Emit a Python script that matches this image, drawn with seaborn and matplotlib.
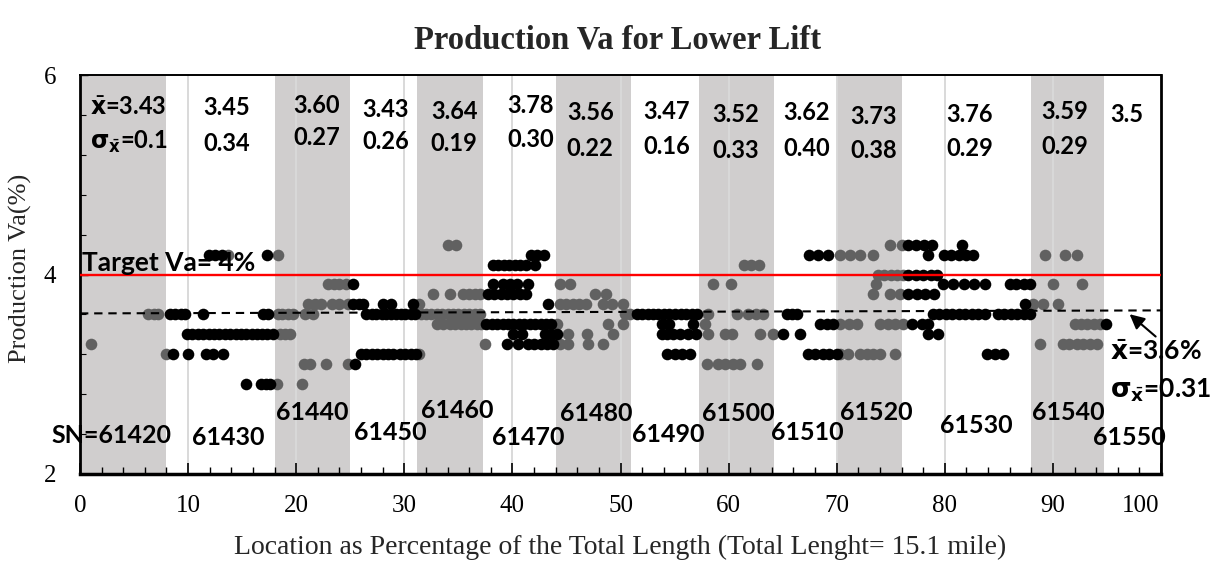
import numpy as np
import pandas as pd
import matplotlib
matplotlib.use("Agg")
import matplotlib.pyplot as plt
import matplotlib.transforms as mtransforms
import seaborn as sns
from matplotlib.ticker import MultipleLocator

# ---------------- data ----------------
black_levels = [4.3, 4.2, 4.1, 4.0, 3.9, 3.8, 3.7, 3.6, 3.5, 3.4, 3.3, 3.2, 3.1, 2.9]
black_xs = [
    [76.6, 77.3, 78.1, 78.8, 81.6],
    [11.9, 12.5, 13.1, 17.3, 41.7, 42.3, 42.9, 67.4, 68.3, 69.2, 78.4, 79.9, 80.6, 81.3, 82.0, 82.6],
    [38.2, 38.7, 39.2, 39.7, 40.2, 40.7, 41.3, 42.1],
    [76.6, 77.3, 78.0, 78.7, 79.3],
    [25.3, 38.2, 39.1, 39.8, 40.4, 41.4, 79.8, 80.8, 81.8, 82.7, 83.7, 86.0, 86.6, 87.3, 87.9],
    [37.7, 38.3, 38.9, 39.5, 40.1, 40.7, 41.3, 76.6, 77.4, 78.2, 79.0],
    [25.3, 25.8, 26.2, 28.0, 28.8, 30.8, 43.3, 87.4],
    [8.3, 8.8, 9.3, 9.7, 11.4, 16.9, 17.4, 26.5, 27.0, 27.4, 27.9, 28.3, 28.8, 29.2, 29.7, 30.1,
     30.6, 31.0, 51.5, 52.0, 52.5, 53.0, 53.5, 54.0, 54.5, 55.0, 55.6, 56.1, 56.6, 57.1, 65.4,
     65.9, 66.3, 78.9, 79.5, 80.1, 80.7, 81.3, 81.9, 82.5, 83.1, 83.7, 84.9, 85.5, 86.1, 86.7,
     87.3, 87.9],
    [37.6, 38.1, 38.6, 39.1, 39.6, 40.1, 40.6, 41.1, 41.6, 42.1, 42.6, 43.1, 43.6, 53.8, 54.5,
     56.7, 68.5, 69.1, 69.7, 77.0, 77.9, 78.4, 94.9],
    [9.9, 10.4, 10.9, 11.4, 11.9, 12.4, 12.9, 13.4, 13.9, 14.4, 14.9, 15.4, 15.9, 16.4, 16.8,
     17.3, 17.9, 40.1, 40.9, 43.0, 43.6, 44.1, 53.8, 54.3, 54.9, 55.5, 56.2, 57.0, 65.0, 66.6,
     78.4, 79.4],
    [39.5, 40.5, 41.4, 42.0, 42.6, 43.2, 43.8],
    [8.6, 10.0, 11.7, 12.3, 13.2, 26.0, 26.5, 27.0, 27.5, 28.0, 28.5, 29.0, 29.6, 30.1, 30.6,
     31.1, 54.3, 55.0, 55.7, 56.4, 67.3, 68.0, 68.7, 69.3, 70.0, 83.9, 84.6, 85.4],
    [25.4],
    [15.4, 16.7, 17.2, 17.6],
]

gray_levels = [4.3, 4.2, 4.1, 4.0, 3.9, 3.8, 3.7, 3.6, 3.5, 3.4, 3.3, 3.2, 3.1, 2.9]
gray_xs = [
    [34.0, 34.8, 74.9, 76.0],
    [13.7, 18.3, 70.3, 71.2, 72.2, 73.4, 89.3, 91.1, 92.2],
    [61.4, 62.1, 62.8],
    [73.8, 74.4, 75.0, 75.6, 76.1],
    [22.9, 23.5, 24.0, 24.6, 44.4, 45.3, 58.6, 60.2, 73.6, 90.0, 92.7],
    [32.7, 34.2, 35.4, 36.0, 36.5, 37.0, 47.6, 48.7, 73.4, 74.9, 75.9],
    [21.1, 21.7, 22.3, 23.3, 24.0, 24.8, 31.4, 44.4, 45.0, 45.6, 46.2, 46.8, 48.4, 49.2, 50.2,
     88.2, 89.1, 90.5],
    [6.3, 6.8, 7.2, 18.3, 18.7, 19.2, 19.7, 20.8, 21.6, 31.5, 32.0, 32.5, 33.0, 33.5, 34.0,
     34.5, 35.0, 35.5, 36.0, 36.5, 37.0, 50.4, 50.9, 58.1, 60.8, 61.8, 62.5, 63.2],
    [33.0, 33.6, 34.2, 34.7, 35.2, 35.7, 36.2, 36.7, 37.1, 44.1, 48.8, 50.2, 57.8, 70.3, 71.1,
     71.9, 74.0, 74.7, 75.4, 76.1, 92.0, 92.6, 93.2, 93.8, 94.4],
    [18.5, 19.0, 19.4, 45.1, 46.9, 49.3, 58.1, 59.7, 60.3, 62.9, 64.1],
    [1.0, 37.5, 44.4, 45.1, 47.0, 48.4, 88.8, 90.9, 91.5, 92.2, 92.8, 93.4, 94.1],
    [8.0, 31.4, 70.3, 71.0, 72.2, 72.8, 73.4, 74.0, 75.4],
    [20.7, 21.3, 22.8, 24.8, 58.0, 59.0, 59.7, 60.4, 61.1, 62.6],
    [18.2, 20.5],
]

band_starts = [0, 18, 31.2, 44, 57.3, 70, 88]
band_ends = [8, 25, 37.3, 51, 64.2, 76, 94.7]

target_va = 4.0
mean_line_x = [0, 100]
mean_line_y = [3.61, 3.64]

stat_means = ["3.43", "3.45", "3.60", "3.43", "3.64", "3.78", "3.56", "3.47", "3.52", "3.62",
              "3.73", "3.76", "3.59", "3.5"]
stat_sds = ["0.1", "0.34", "0.27", "0.26", "0.19", "0.30", "0.22", "0.16", "0.33", "0.40",
            "0.38", "0.29", "0.29", ""]
stat_x = [0.9, 13.6, 21.9, 28.3, 34.6, 41.7, 47.2, 54.3, 60.7, 67.2, 73.4, 82.3, 91.1, 96.8]
stat_mean_y = [5.67, 5.67, 5.69, 5.65, 5.63, 5.69, 5.62, 5.63, 5.60, 5.62, 5.58, 5.60, 5.63, 5.60]
stat_sd_y = [5.33, 5.31, 5.37, 5.33, 5.31, 5.35, 5.26, 5.28, 5.24, 5.26, 5.24, 5.26, 5.28, 5.28]

sn_labels = ["SN=61420", "61430", "61440", "61450", "61460", "61470", "61480", "61490",
             "61500", "61510", "61520", "61530", "61540", "61550"]
sn_x = [2.9, 13.7, 21.5, 28.7, 34.9, 41.5, 47.8, 54.4, 60.9, 67.3, 73.7, 82.9, 91.4, 97.1]
sn_y = [2.39, 2.37, 2.62, 2.42, 2.64, 2.37, 2.61, 2.40, 2.61, 2.42, 2.62, 2.49, 2.62, 2.37]

# ---------------- frames ----------------
def build(levels, xs, name):
    rows = []
    for lv, xl in zip(levels, xs):
        for x in xl:
            rows.append((x, lv, name))
    return pd.DataFrame(rows, columns=["loc", "va", "series"])

df_gray = build(gray_levels, gray_xs, "gray")
df_black = build(black_levels, black_xs, "black")

# ---------------- plot ----------------
sns.set_theme(style="white")
plt.rcParams["font.family"] = ["Liberation Serif", "DejaVu Serif"]
plt.rcParams["mathtext.fontset"] = "dejavusans"

W, H = 1214, 563
fig = plt.figure(figsize=(W / 100, H / 100), dpi=100)
ax = fig.add_axes([80 / W, 1 - 474 / H, (1161 - 80) / W, (474 - 75) / H])

for s, e in zip(band_starts, band_ends):
    ax.axvspan(s, e, color="#d0cece", lw=0, zorder=0)
for gx in range(10, 100, 10):
    ax.axvline(gx, color="#d9d9d9", lw=1.4, zorder=0.5)

sns.scatterplot(data=df_gray, x="loc", y="va", color="#616161", s=70, linewidth=0,
                ax=ax, zorder=3, legend=False)
sns.scatterplot(data=df_black, x="loc", y="va", color="#000000", s=70, linewidth=0,
                ax=ax, zorder=4, legend=False)

ax.axhline(target_va, color="#ff0000", lw=1.7, zorder=5)
ax.plot(mean_line_x, mean_line_y, color="black", lw=1.5, ls=(0, (4, 2.8)), zorder=5)

ax.set_xlim(0, 100)
ax.set_ylim(2, 6)
ax.set_xticks(range(0, 101, 10))
ax.set_yticks([2, 4, 6])
ax.xaxis.set_minor_locator(MultipleLocator(2))
ax.yaxis.set_minor_locator(MultipleLocator(0.4))
ax.tick_params(axis="both", which="both", direction="in", colors="black",
               labelsize=18, bottom=True, left=True, top=False, right=False)
ax.tick_params(axis="x", which="major", length=8, width=1.2, pad=15)
ax.tick_params(axis="x", which="minor", length=5, width=1.0)
ax.tick_params(axis="y", which="major", length=6, width=1.0, pad=17)
ax.tick_params(axis="y", which="minor", length=4, width=0.8)
for sp in ax.spines.values():
    sp.set_color("black")
    sp.set_linewidth(1.4)
ax.spines["bottom"].set_linewidth(2.5)
ax.spines["left"].set_linewidth(2.0)
ax.spines["right"].set_linewidth(2.0)
ax.set_xlabel("")
ax.set_ylabel("")

fig.canvas.draw()
last = ax.get_xticklabels()[-1]
last.set_transform(last.get_transform() + mtransforms.ScaledTranslation(-0.2, 0, fig.dpi_scale_trans))

bold = dict(family=["Lato", "DejaVu Sans"], weight="bold", color="black")

ax.text(0.2, 4.12, "Target Va= 4%", fontsize=19, ha="left", va="center", zorder=6, **bold)

for i, (mx, mn, sd, my, sy) in enumerate(zip(stat_x, stat_means, stat_sds, stat_mean_y, stat_sd_y)):
    if i == 0:
        ax.text(mx, my, r"$\bar{\mathbf{x}}$=" + mn, fontsize=17, ha="left", va="center", zorder=6, **bold)
        ax.text(mx, sy, r"$\mathbf{\sigma}_{\bar{\mathbf{x}}}$=" + sd, fontsize=17, ha="left",
                va="center", zorder=6, **bold)
    else:
        ax.text(mx, my, mn, fontsize=17, ha="center", va="center", zorder=6, **bold)
        if sd:
            ax.text(mx, sy, sd, fontsize=17, ha="center", va="center", zorder=6, **bold)

for lab, x, y in zip(sn_labels, sn_x, sn_y):
    ax.text(x, y, lab, fontsize=18, ha="center", va="center", zorder=6, clip_on=False, **bold)

ax.annotate("", xy=(96.9, 3.62), xytext=(99.7, 3.36),
            arrowprops=dict(arrowstyle="-|>", color="black", lw=1.5, mutation_scale=22),
            zorder=7, annotation_clip=False)
ax.text(95.3, 3.22, r"$\bar{\mathbf{x}}$=3.6%", fontsize=19, ha="left", va="center",
        clip_on=False, zorder=7, **bold)
ax.text(95.3, 2.84, r"$\mathbf{\sigma}_{\bar{\mathbf{x}}}$=0.31", fontsize=19, ha="left",
        va="center", clip_on=False, zorder=7, **bold)

fig.text(618 / W, 1 - 40 / H, "Production Va for Lower Lift", fontsize=23.5, fontweight="bold",
         ha="center", va="center", family=["Liberation Serif", "DejaVu Serif"])
fig.text(620 / W, 1 - 547 / H, "Location as Percentage of the Total Length (Total Lenght= 15.1 mile)",
         fontsize=20, ha="center", va="center", family=["Liberation Serif", "DejaVu Serif"])
fig.text(20 / W, 1 - 268 / H, "Production Va(%)", fontsize=19, rotation=90,
         ha="center", va="center", family=["Liberation Serif", "DejaVu Serif"])

fig.savefig("out.png", dpi=100, facecolor="white")
